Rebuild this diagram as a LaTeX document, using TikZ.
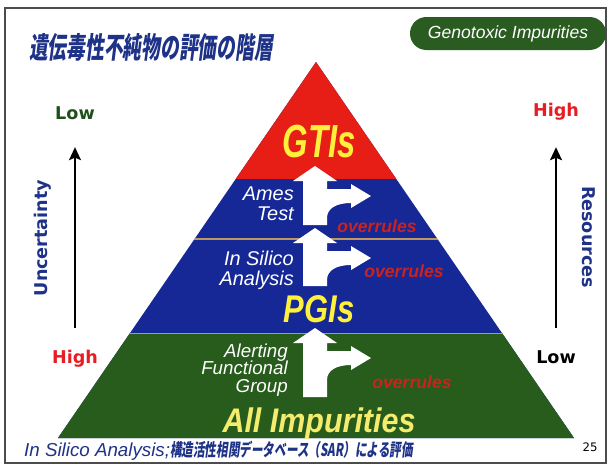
\documentclass[tikz,border=0pt]{standalone}
\usepackage{fontspec}
\usepackage{graphicx}
\setmainfont{Liberation Sans}
\newfontfamily\boldsans{DejaVu Sans}
\newfontfamily\jpfont{Noto Sans CJK JP}[FakeSlant=0.2]
\usetikzlibrary{arrows.meta,positioning}

\definecolor{gtired}{RGB}{230,30,22}
\definecolor{pyblue}{RGB}{22,40,150}
\definecolor{pygreen}{RGB}{40,92,28}
\definecolor{boxgreen}{RGB}{42,92,34}
\definecolor{titleblue}{RGB}{30,50,135}
\definecolor{labyellow}{RGB}{255,240,60}
\definecolor{paleyellow}{RGB}{245,236,110}
\definecolor{lowgreen}{RGB}{30,80,25}
\definecolor{hired}{RGB}{230,30,35}
\definecolor{overred}{RGB}{200,35,30}
\definecolor{seamtan}{RGB}{190,150,95}

% white up-arrow with a branch to the right
\newcommand{\forkarrow}[3]{%
  \fill[white, shift={(#1,#2)}] (0,0) -- (22,15) -- (12,15) -- (12,23) -- (36,23) -- (36,18)
    -- (56,30) -- (36,42) -- (36,37) .. controls (22,37) and (12,42) .. (12,52)
    -- (12,#3) -- (-12,#3) -- (-12,15) -- (-22,15) -- cycle;}

\begin{document}
\begin{tikzpicture}[x=0.03cm, y=-0.03cm,
    endlabel/.style={font=\boldsans\bfseries\fontsize{15}{15}\selectfont, inner sep=2pt},
    axislabel/.style={font=\boldsans\bfseries\fontsize{15}{15}\selectfont, text=titleblue},
    tiername/.style={font=\itshape\fontsize{17}{17}\selectfont, text=white, align=right, anchor=east, inner sep=0pt},
    bigtier/.style={font=\bfseries\itshape, anchor=base, inner sep=0pt, text=labyellow},
    overtext/.style={font=\bfseries\itshape\fontsize{15}{15}\selectfont, text=overred},
    updir/.style={-{Stealth[length=11pt,width=10pt,inset=2pt]}, line width=2.4pt}
  ]
    \useasboundingbox (0,0) rectangle (611,464);
    \fill[white] (0,0) rectangle (611,464);
    \draw[black!70, line width=1pt] (5,8) rectangle (606,463);

    \node[anchor=west, inner sep=0pt, text=titleblue] (title) at (29,47)
      {\scalebox{0.64}[1]{\jpfont\bfseries\fontsize{25}{25}\selectfont 遺伝毒性不純物の評価の階層}};
    \node[fill=boxgreen, rounded corners=14pt, minimum width=5.88cm, minimum height=0.99cm,
      text=white, font=\itshape\fontsize{15}{15}\selectfont] (tag) at (508,33.5) {Genotoxic Impurities};

    % pyramid
    \coordinate (apex) at (316,62);
    \coordinate (baseL) at (58,438);
    \coordinate (baseR) at (574,438);
    \fill[pyblue] (apex) -- (baseL) -- (baseR) -- cycle;
    \begin{scope}
      \clip (apex) -- (baseL) -- (baseR) -- cycle;
      \fill[gtired] (0,0) rectangle (611,179);
      \fill[pygreen] (0,333) rectangle (611,440);
      \draw[seamtan, line width=1.5pt] (0,239) -- (611,239);
      \draw[seamtan, line width=0.6pt] (0,333) -- (611,333);
    \end{scope}

    \forkarrow{315}{166}{59}
    \forkarrow{315}{228}{58}
    \forkarrow{315}{328}{69}

    \node[bigtier] (gtis) at (319,157) {\scalebox{0.85}[1.2]{\fontsize{33}{33}\selectfont GTIs}};
    \node[bigtier] (pgis) at (319,322) {\scalebox{0.88}[1.1]{\fontsize{30}{30}\selectfont PGIs}};
    \node[bigtier, text=paleyellow] (allimp) at (319,432) {\scalebox{1}[1.12]{\fontsize{26}{26}\selectfont All Impurities}};

    \node[tiername] (ames) at (294,204) {Ames\\Test};
    \node[tiername] (silico) at (294,270) {In Silico\\Analysis};
    \node[tiername, font=\itshape\fontsize{16}{15}\selectfont] (alert) at (288,370) {Alerting\\Functional\\Group};

    \node[overtext] (over1) at (377,226) {overrules};
    \node[overtext] (over2) at (404,271) {overrules};
    \node[overtext] (over3) at (412,382) {overrules};

    % side scales
    \node[endlabel, text=lowgreen] (ulow) at (75,113) {Low};
    \node[endlabel, text=hired] (uhigh) at (75,359) {High};
    \node[endlabel, text=hired] (rhigh) at (556,112) {High};
    \node[endlabel, text=black] (rlow) at (556,357) {Low};
    \draw[updir, shorten <=0.6cm, shorten >=0.75cm] (uhigh) -- (ulow);
    \draw[updir, shorten <=0.6cm, shorten >=0.72cm] (rlow) -- (rhigh);
    \node[axislabel, rotate=90] (uncert) at (43,238) {Uncertainty};
    \node[axislabel, rotate=-90] (resrc) at (589,237) {Resources};

    \node[font=\boldsans\fontsize{10}{10}\selectfont] (pageno) at (590,447) {25};
    \node[anchor=base west, inner sep=0pt, text=titleblue] (note) at (24,456)
      {{\itshape\fontsize{16}{16}\selectfont In Silico Analysis;}\scalebox{0.66}[1]{\jpfont\bfseries\fontsize{15}{15}\selectfont 構造活性相関データベース（SAR）による評価}};
\end{tikzpicture}
\end{document}
